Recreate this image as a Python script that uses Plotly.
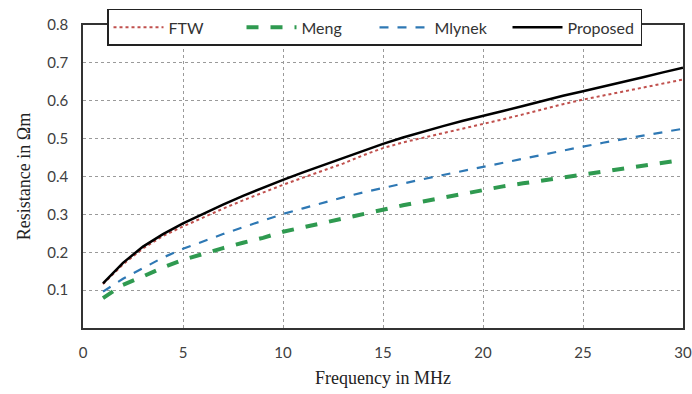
import plotly.graph_objects as go

freq = list(range(1, 31))
ftw = [0.116, 0.168, 0.210, 0.243, 0.268, 0.292, 0.315, 0.337, 0.358, 0.378,
       0.397, 0.416, 0.434, 0.456, 0.475, 0.490, 0.502, 0.514, 0.526, 0.537,
       0.551, 0.564, 0.578, 0.591, 0.603, 0.614, 0.625, 0.636, 0.646, 0.656]
meng = [0.079, 0.114, 0.136, 0.160, 0.180, 0.196, 0.211, 0.225, 0.238, 0.254,
        0.266, 0.278, 0.290, 0.302, 0.313, 0.324, 0.334, 0.344, 0.355, 0.366,
        0.374, 0.382, 0.390, 0.398, 0.405, 0.413, 0.421, 0.429, 0.437, 0.444]
mlynek = [0.096, 0.130, 0.158, 0.186, 0.209, 0.229, 0.248, 0.266, 0.284, 0.301,
          0.316, 0.331, 0.345, 0.358, 0.370, 0.382, 0.393, 0.404, 0.415, 0.426,
          0.437, 0.448, 0.459, 0.469, 0.479, 0.489, 0.499, 0.508, 0.517, 0.526]
proposed = [0.118, 0.172, 0.215, 0.248, 0.276, 0.302, 0.326, 0.349, 0.371, 0.391,
            0.411, 0.430, 0.449, 0.468, 0.486, 0.503, 0.519, 0.533, 0.547, 0.559,
            0.573, 0.586, 0.600, 0.613, 0.625, 0.637, 0.650, 0.662, 0.675, 0.687]

x_ticks = [0, 5, 10, 15, 20, 25, 30]
y_ticks = [0.1, 0.2, 0.3, 0.4, 0.5, 0.6, 0.7, 0.8]
y_ticklabels = ["0.1", "0.2", "0.3", "0.4", "0.5", "0.6", "0.7", "0.8"]

fig = go.Figure()
fig.add_trace(go.Scatter(x=freq, y=ftw, name="FTW", mode="lines",
                         line=dict(color="#c0504d", width=2, dash="dot")))
fig.add_trace(go.Scatter(x=freq, y=meng, name="Meng", mode="lines",
                         line=dict(color="#2f9a50", width=4, dash="dash")))
fig.add_trace(go.Scatter(x=freq, y=mlynek, name="Mlynek", mode="lines",
                         line=dict(color="#2e78b4", width=2.2, dash="dash")))
fig.add_trace(go.Scatter(x=freq, y=proposed, name="Proposed", mode="lines",
                         line=dict(color="#000000", width=2.5)))

tickfont = dict(family="Lato", size=15, color="#404040")
titlefont = dict(family="Liberation Serif", size=18, color="#222222")

fig.update_layout(
    width=692, height=394,
    margin=dict(l=83, r=9, t=25, b=66, autoexpand=False),
    paper_bgcolor="white", plot_bgcolor="white",
    showlegend=True,
    legend=dict(orientation="h", x=0.04, y=1.053, xanchor="left", yanchor="top",
                bordercolor="#222222", borderwidth=1.5, bgcolor="white",
                font=dict(family="Lato", size=16, color="#333333"),
                itemwidth=50, entrywidth=68, entrywidthmode="pixels",
                tracegroupgap=0),
    xaxis=dict(range=[0, 30], tickvals=x_ticks, ticks="", showline=True,
               linecolor="#333333", linewidth=1.5, mirror=True,
               showgrid=True, gridcolor="#9a9a9a", griddash="dot", gridwidth=1,
               zeroline=False, tickfont=tickfont, ticklabelstandoff=10,
               title=dict(text="Frequency in MHz", font=titlefont, standoff=12)),
    yaxis=dict(range=[0, 0.8], tickvals=y_ticks, ticktext=y_ticklabels, ticks="",
               showline=True, linecolor="#333333", linewidth=1.5, mirror=True,
               showgrid=True, gridcolor="#9a9a9a", griddash="dot", gridwidth=1,
               zeroline=False, tickfont=tickfont, ticklabelstandoff=10,
               title=dict(text="Resistance in Ωm", font=titlefont, standoff=12)),
)

fig.write_html("out.html")
